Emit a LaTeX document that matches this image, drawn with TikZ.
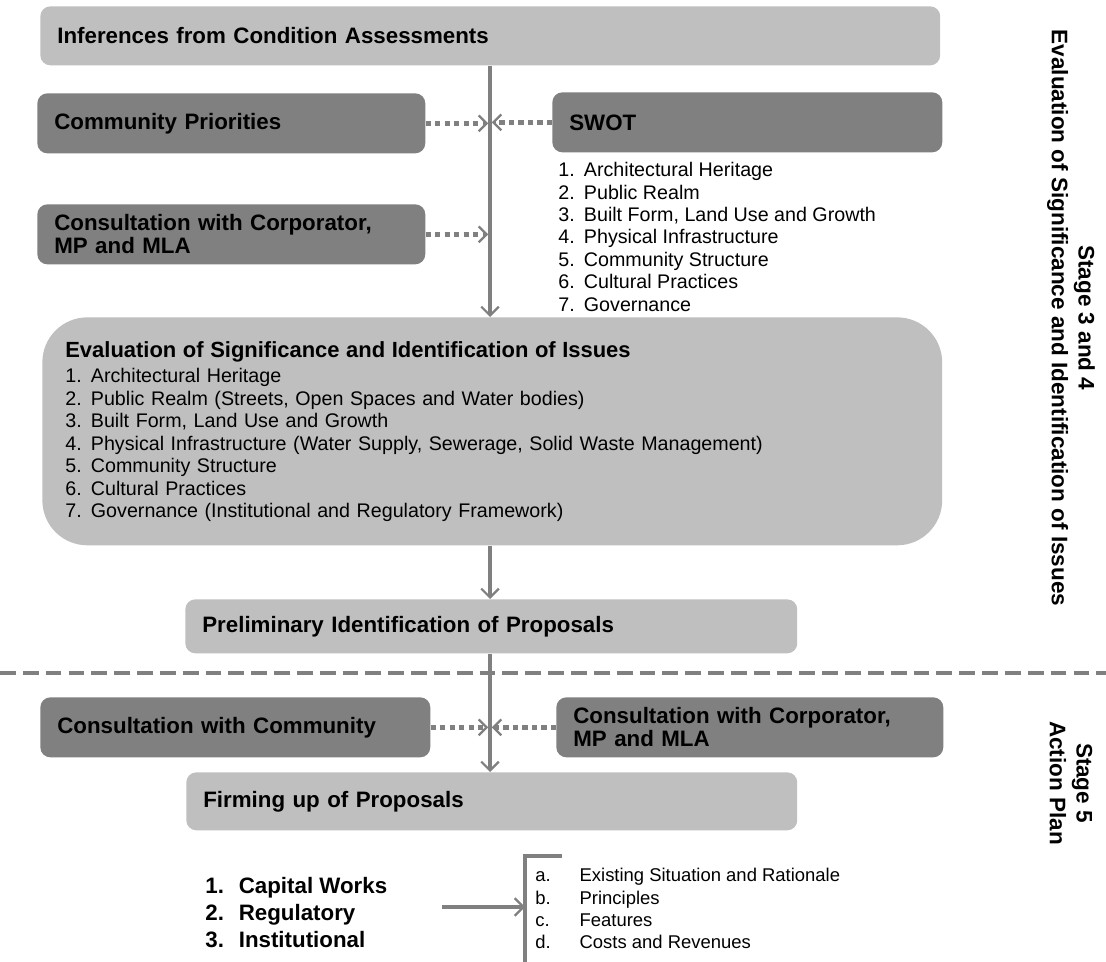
\documentclass[tikz,border=0pt]{standalone}
\usepackage{fontspec}
\setmainfont{Liberation Sans}
\usepackage{tikz}
\usetikzlibrary{arrows.meta,positioning}
\usepackage{xcolor}
\definecolor{boxlight}{RGB}{191,191,191}
\definecolor{boxdark}{RGB}{128,128,128}
\definecolor{linkgray}{RGB}{128,128,128}
\newcommand{\nitem}[2]{\makebox[1.3em][l]{#1}#2}

\begin{document}
\begin{tikzpicture}[
    x=0.02cm, y=-0.02cm,
    box/.style={rectangle,rounded corners=0.2cm,anchor=north west,
                inner xsep=0.34cm,inner ysep=0pt,align=left,
                font=\fontsize{12.7}{13}\selectfont\bfseries},
    lightbox/.style={box,fill=boxlight},
    darkbox/.style={box,fill=boxdark},
    plain/.style={anchor=north west,inner sep=0pt,align=left},
    flow/.style={draw=linkgray,line width=2.3pt,
                 -{Straight Barb[length=5pt,width=10pt,line width=1.3pt]}},
    dotflow/.style={draw=linkgray,line width=2.8pt,dash pattern=on 3pt off 2.4pt,
                 -{Straight Barb[length=4.5pt,width=9pt,line width=1.3pt]},shorten >=1pt},
    divider/.style={draw=linkgray,line width=2.8pt,dash pattern=on 9pt off 4pt},
    stage/.style={rotate=-90,align=center,font=\fontsize{12.8}{15.3}\selectfont\bfseries}
  ]
    \useasboundingbox (0,0) rectangle (1106,962);

    \node[lightbox,text width=17.32cm,minimum height=1.18cm] (infer) at (40,6) {Inferences from Condition Assessments};
    \node[darkbox,text width=7.08cm,minimum height=1.2cm] (prio) at (37,93) {Community Priorities};
    \node[darkbox,text width=7.12cm,minimum height=1.2cm] (swot) at (552,92) {SWOT};
    \node[plain,font=\fontsize{11.2}{12.75}\selectfont] (swotlist) at (558,162) {%
      \nitem{1.}{Architectural Heritage}\\
      \nitem{2.}{Public Realm}\\
      \nitem{3.}{Built Form, Land Use and Growth}\\
      \nitem{4.}{Physical Infrastructure}\\
      \nitem{5.}{Community Structure}\\
      \nitem{6.}{Cultural Practices}\\
      \nitem{7.}{Governance}};
    \node[darkbox,text width=7.08cm,minimum height=1.2cm] (corpa) at (37,204) {Consultation with Corporator,\\MP and MLA};
    \node[lightbox,rounded corners=0.9cm,inner xsep=0.46cm,text width=17.08cm,minimum height=4.56cm,
          font=\fontsize{11.2}{12.75}\selectfont] (evalbox) at (42,317) {%
      {\fontsize{12.5}{14}\selectfont\bfseries Evaluation of Significance and Identification of Issues}\\[2pt]
      \nitem{1.}{Architectural Heritage}\\
      \nitem{2.}{Public Realm (Streets, Open Spaces and Water bodies)}\\
      \nitem{3.}{Built Form, Land Use and Growth}\\
      \nitem{4.}{Physical Infrastructure (Water Supply, Sewerage, Solid Waste Management)}\\
      \nitem{5.}{Community Structure}\\
      \nitem{6.}{Cultural Practices}\\
      \nitem{7.}{Governance (Institutional and Regulatory Framework)}};
    \node[lightbox,text width=11.56cm,minimum height=1.08cm] (prelim) at (185,599) {Preliminary Identification of Proposals};
    \node[darkbox,text width=7.12cm,minimum height=1.2cm] (community) at (40,697) {Consultation with Community};
    \node[darkbox,text width=7.06cm,minimum height=1.2cm] (corpb) at (556,697) {Consultation with Corporator,\\MP and MLA};
    \node[lightbox,text width=11.54cm,minimum height=1.16cm] (firming) at (186,772) {Firming up of Proposals};
    \node[plain,font=\fontsize{12.7}{15.3}\selectfont\bfseries] (works) at (205,877) {%
      \makebox[1.5em][l]{1.}Capital Works\\
      \makebox[1.5em][l]{2.}Regulatory\\
      \makebox[1.5em][l]{3.}Institutional};
    \node[plain,font=\fontsize{10.5}{12.75}\selectfont] (parts) at (535,868) {%
      \makebox[2.4em][l]{a.}Existing Situation and Rationale\\
      \makebox[2.4em][l]{b.}Principles\\
      \makebox[2.4em][l]{c.}Features\\
      \makebox[2.4em][l]{d.}Costs and Revenues};
    \node[stage] (stagea) at (1071,318) {Stage 3 and 4\\Evaluation of Significance and Identification of Issues};
    \node[stage] (stageb) at (1071,783) {Stage 5\\Action Plan};

    \coordinate (spine) at (490,0);
    \coordinate (worksout) at (442,907);
    \coordinate (brk) at (525,907);

    \draw[divider] (0,673) -- (1106,673);
    \draw[flow] (infer.south -| spine) -- (evalbox.north -| spine);
    \draw[flow] (evalbox.south -| spine) -- (prelim.north -| spine);
    \draw[flow] (prelim.south -| spine) -- (firming.north -| spine);
    \draw[dotflow] (prio.east) -- (prio.east -| spine);
    \draw[dotflow] (swot.west) -- (swot.west -| spine);
    \draw[dotflow] (corpa.east) -- (corpa.east -| spine);
    \draw[dotflow] (community.east) -- (community.east -| spine);
    \draw[dotflow] (corpb.west) -- (corpb.west -| spine);
    \draw[flow] (worksout) -- (brk);
    \draw[draw=linkgray,line width=2.3pt] (562,856) -- (525,856) -- (525,962);
  \end{tikzpicture}
\end{document}
